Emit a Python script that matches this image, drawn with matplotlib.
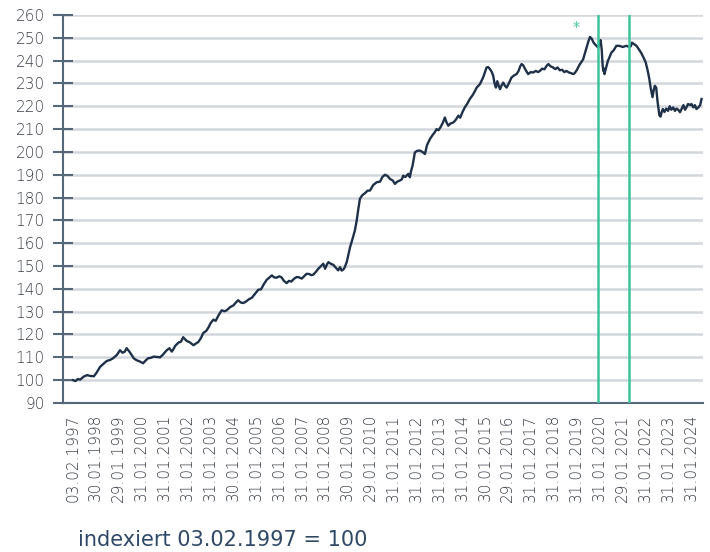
import matplotlib
matplotlib.use("Agg")
import matplotlib.pyplot as plt
import datetime as dt

plt.rcParams['font.family'] = ['DejaVu Sans']

# ---- data (decimal year, index value) ----
years = [
1997.09,1997.2,1997.3,1997.4,1997.55,1997.7,1997.85,1998.0,1998.1,1998.27,1998.4,1998.56,1998.7,1998.84,
1999.0,1999.14,1999.25,1999.35,1999.43,1999.55,1999.65,1999.75,1999.87,2000.0,2000.15,2000.25,2000.37,2000.5,
2000.6,2000.74,2000.89,2001.0,2001.18,2001.3,2001.4,2001.47,2001.55,2001.7,2001.8,2001.9,2002.05,2002.2,2002.35,
2002.45,2002.56,2002.68,2002.78,2002.9,2003.0,2003.1,2003.22,2003.32,2003.45,2003.58,2003.7,2003.8,2003.95,
2004.1,2004.2,2004.3,2004.42,2004.53,2004.65,2004.78,2004.9,2005.05,2005.18,2005.3,2005.42,2005.55,2005.67,
2005.77,2005.88,2005.98,2006.1,2006.2,2006.3,2006.42,2006.52,2006.62,2006.75,2006.86,2006.97,2007.08,2007.18,
2007.29,2007.4,2007.5,2007.58,2007.7,2007.8,2007.92,2008.02,2008.1,2008.17,2008.24,2008.35,2008.46,2008.55,
2008.67,2008.75,2008.82,2008.9,2008.96,2009.05,2009.19,2009.3,2009.4,2009.48,2009.55,2009.62,2009.72,2009.85,
2009.95,2010.06,2010.2,2010.35,2010.5,2010.6,2010.71,2010.82,2010.93,2011.05,2011.15,2011.25,2011.37,2011.45,
2011.51,2011.6,2011.73,2011.8,2011.85,2011.92,2012.02,2012.12,2012.24,2012.35,2012.46,2012.55,2012.68,2012.8,
2012.88,2012.97,2013.05,2013.15,2013.25,2013.33,2013.4,2013.48,2013.58,2013.7,2013.8,2013.92,2014.0,2014.1,
2014.2,2014.3,2014.42,2014.55,2014.65,2014.72,2014.86,2015.0,2015.08,2015.15,2015.22,2015.3,2015.38,2015.44,
2015.5,2015.56,2015.62,2015.68,2015.74,2015.8,2015.88,2015.95,2016.03,2016.12,2016.24,2016.35,2016.46,2016.55,
2016.62,2016.68,2016.75,2016.85,2016.97,2017.08,2017.19,2017.3,2017.4,2017.48,2017.58,2017.68,2017.77,2017.85,
2017.95,2018.06,2018.15,2018.25,2018.35,2018.45,2018.55,2018.64,2018.75,2018.85,2018.93,2019.0,2019.1,2019.2,
2019.37,2019.5,2019.6,2019.67,2019.75,2019.82,2019.88,2019.95,2020.03,2020.08,2020.13,2020.18,2020.22,2020.25,
2020.28,2020.3,2020.35,2020.45,2020.52,2020.6,2020.7,2020.82,2020.95,2021.1,2021.25,2021.4,2021.45,2021.5,
2021.6,2021.7,2021.8,2021.9,2022.0,2022.1,2022.18,2022.25,2022.32,2022.4,2022.45,2022.5,2022.56,2022.62,
2022.7,2022.75,2022.8,2022.85,2022.92,2023.0,2023.08,2023.15,2023.22,2023.3,2023.38,2023.45,2023.52,2023.6,
2023.68,2023.75,2023.82,2023.88,2023.95,2024.05,2024.1,2024.18,2024.25,2024.32,2024.4,2024.48,2024.54]

values = [
100,99.6,100.5,100.2,101.5,102.2,101.8,101.7,103,105.8,107,108.4,108.8,109.6,
111,113.1,112,112.5,114,112.5,111,109.5,108.7,108.2,107.4,108.5,109.6,109.8,
110.3,110.2,110,111,113.1,114,112.5,113.5,115,116.5,116.8,118.8,117.2,116.5,115.3,
116,116.7,118.5,120.7,121.5,123,125,126.5,126,128.5,130.6,130.2,130.6,132,
132.8,134,135,134,133.8,134.5,135.5,136.1,138,139.6,139.8,142,144,145,
145.9,145,144.9,145.5,145,143.5,142.5,143.5,143.2,144.5,145.2,145,144.5,145.5,
146.6,146.5,146,146.2,147.5,148.8,150,151,148.8,150.5,151.7,151,150.5,149.5,
148.1,149.5,148,148.5,149.5,152,158.3,162,165.6,170,175,179.5,181,182,
183,183.1,185.5,186.7,187,189,190,189.5,188.2,187.5,186,187,187.5,188,
189.6,189,190.4,188.9,191.5,194,199.8,200.5,200.6,200,199.1,203,205.7,207.5,
208.5,210,209.5,211,213,215.1,213,211.5,212.5,212.9,214,215.9,215,217.5,
219.5,221,223.2,225,226.8,228.2,229.7,232.6,235,237,237.2,236.3,235,233.4,
230,228.2,231,229,227.5,229,230.4,229,228.2,230,232.6,233.5,234.1,235.5,
237.5,238.5,238,236,234.1,235,234.8,235.5,235,235.5,236.5,236.2,237.7,238.5,
237.5,237,236.3,237,235.8,236,235,235.5,234.8,234.5,234.1,234.5,236,238,
240.6,245,248.5,250.4,249.5,248,247.2,246.5,245.7,247.5,249,245,238,235.5,
236.5,234.1,236,239.9,241.5,243.5,244.5,246.5,246.5,246,246.5,246,246.3,247.9,
247.2,246.5,245,243.5,241.5,239.3,236,232.6,228,224,227,229,228.2,222,
216,215.5,217.5,218.8,217.5,219,218,220,218.5,219.5,218,219,218.5,217.4,
219,220.5,218.5,219.5,221,220.5,221,219.5,220.5,218.8,219.5,220.5,223.2]

tick_labels = ["03.02.1997","30.01.1998","29.01.1999","31.01.2000","31.01.2001","31.01.2002",
               "31.01.2003","30.01.2004","31.01.2005","31.01.2006","31.01.2007","31.01.2008",
               "30.01.2009","29.01.2010","31.01.2011","31.01.2012","31.01.2013","31.01.2014",
               "30.01.2015","29.01.2016","31.01.2017","31.01.2018","31.01.2019","31.01.2020",
               "29.01.2021","31.01.2022","31.01.2023","31.01.2024"]
event_years = [2020.01, 2021.38]
asterisk_year = 2019.06
y_ticks = list(range(90, 261, 10))

def to_dec(s):
    d = dt.datetime.strptime(s, "%d.%m.%Y")
    start = dt.datetime(d.year, 1, 1)
    end = dt.datetime(d.year + 1, 1, 1)
    return d.year + (d - start).total_seconds() / (end - start).total_seconds()

tick_pos = [to_dec(s) for s in tick_labels]

navy = "#1e3148"
green = "#3cc49b"
grid_c = "#d3d7dc"
spine_c = "#566779"
text_c = "#3a4048"

fig = plt.figure(figsize=(7.10, 5.52), dpi=100)
ax = fig.add_axes([0.0887, 0.270, 0.9013, 0.7028])

ax.plot(years, values, color=navy, lw=1.7, zorder=3)
for x in event_years:
    ax.axvline(x, color=green, lw=1.8, zorder=4)
ax.text(asterisk_year, 254.6, "*", color=green, fontsize=10, ha="center", va="center")

ax.set_ylim(90, 260)
ax.set_xlim(1996.65, 2024.6)
ax.set_yticks(y_ticks)
ax.set_yticklabels([str(v) for v in y_ticks], fontweight="light")
ax.set_xticks(tick_pos)
ax.set_xticklabels(tick_labels, rotation=90, fontweight="light")

ax.yaxis.grid(True, color=grid_c, lw=1.8, zorder=0)
ax.set_axisbelow(True)
for s in ["top", "right"]:
    ax.spines[s].set_visible(False)
for s in ["left", "bottom"]:
    ax.spines[s].set_color(spine_c)
    ax.spines[s].set_linewidth(1.5)

ax.tick_params(axis="y", direction="inout", length=14.4, width=1.5, color=spine_c,
               labelsize=11, labelcolor=text_c, pad=6)
ax.tick_params(axis="x", length=0, labelsize=11, labelcolor=text_c, pad=8)

fig.text(0.11, 0.011, "indexiert 03.02.1997 = 100", color="#2f4866", fontsize=15,
         ha="left", va="baseline")

fig.savefig("out.png", dpi=100)
